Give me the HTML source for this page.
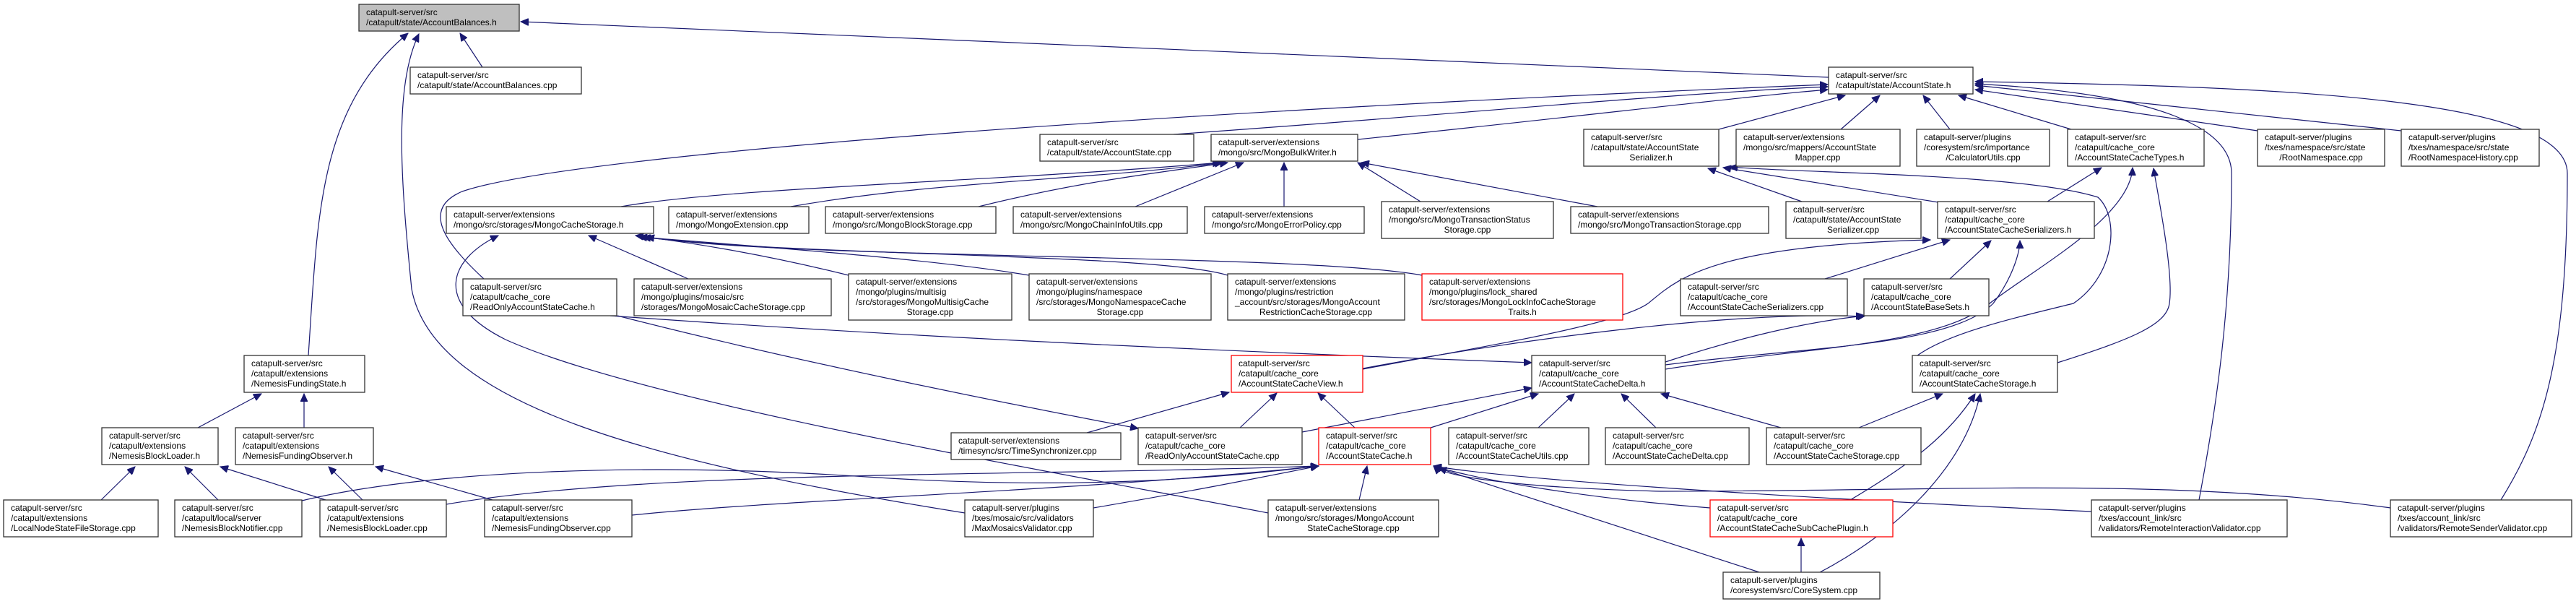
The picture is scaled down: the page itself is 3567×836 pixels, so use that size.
<!DOCTYPE html>
<html><head><meta charset="utf-8"><style>
html,body{margin:0;padding:0;background:#fff;}
svg{display:block;}
text{font-family:"Liberation Sans",Arial,sans-serif;font-size:12px;fill:#000;}
.b{fill:#fff;stroke:#333;stroke-width:1.3;}
.r{fill:#fff;stroke:#ff0000;stroke-width:1.3;}
.g{fill:#bfbfbf;stroke:#333;stroke-width:1.3;}
.e{fill:none;stroke:#191970;stroke-width:1.2;marker-end:url(#a);}
</style></head><body>
<svg width="3567" height="836" viewBox="0 0 3567 836" xmlns="http://www.w3.org/2000/svg">
<defs><marker id="a" markerUnits="userSpaceOnUse" markerWidth="12" markerHeight="10" refX="11" refY="5" orient="auto"><path d="M0,0 L11,5 L0,10 z" fill="#191970" stroke="#191970"/></marker></defs>

<!-- edges -->
<path class="e" d="M668,93 L637,46"/>
<path class="e" d="M2532,107 L721,30"/>
<path class="e" d="M427,492 C440,300 440,150 565,46"/>
<path class="e" d="M1336,710 C900,640 600,560 570,400 C555,250 545,120 580,47"/>
<path class="e" d="M670,386 C620,340 580,290 640,265 C800,210 1700,150 2531,117"/>
<path class="e" d="M1625,186 C2000,160 2300,130 2531,120"/>
<path class="e" d="M1880,193 C2200,160 2400,135 2531,124"/>
<path class="e" d="M2380,179 L2555,132"/>
<path class="e" d="M2549,179 L2603,132"/>
<path class="e" d="M2700,179 L2663,132"/>
<path class="e" d="M2868,179 L2712,132"/>
<path class="e" d="M3126,181 L2735,124"/>
<path class="e" d="M3325,181 L2735,118"/>
<path class="e" d="M3045,692 C3070,560 3090,420 3090,240 C3090,180 3000,130 2735,116"/>
<path class="e" d="M3463,692 C3520,600 3555,500 3555,240 C3555,140 3200,120 2735,113"/>
<path class="e" d="M860,286 C1000,260 1400,250 1690,225"/>
<path class="e" d="M1095,286 C1300,250 1500,250 1693,225"/>
<path class="e" d="M1355,286 C1500,250 1600,240 1700,225"/>
<path class="e" d="M1572,286 L1722,225"/>
<path class="e" d="M1778,286 L1778,225"/>
<path class="e" d="M1967,279 L1880,225"/>
<path class="e" d="M2212,286 L1885,225"/>
<path class="e" d="M953,386 L815,326"/>
<path class="e" d="M1175,381 C1050,350 950,335 880,326"/>
<path class="e" d="M1425,381 C1300,360 1100,345 885,328"/>
<path class="e" d="M1700,381 C1600,350 1100,355 890,328"/>
<path class="e" d="M1969,381 C1800,350 1100,360 895,328"/>
<path class="e" d="M1756,710 C1500,660 900,560 700,470 C600,420 620,360 690,326"/>
<path class="e" d="M845,437 C1300,470 1800,490 2121,502"/>
<path class="e" d="M855,437 C1100,500 1400,560 1576,593"/>
<path class="e" d="M1505,599 L1702,543"/>
<path class="e" d="M1717,592 L1768,544"/>
<path class="e" d="M1876,592 L1825,544"/>
<path class="e" d="M1887,510 C2100,470 2400,430 2581,438"/>
<path class="e" d="M1887,511 C2050,480 2240,450 2282,420 C2320,390 2360,340 2673,332"/>
<path class="e" d="M2306,501 C2400,470 2500,445 2583,437"/>
<path class="e" d="M2306,511 C2500,480 2680,480 2755,420 C2820,370 2950,300 2953,232"/>
<path class="e" d="M2306,505 C2500,480 2700,480 2760,420 C2790,380 2797,345 2797,333"/>
<path class="e" d="M1981,592 L2130,545"/>
<path class="e" d="M2130,592 L2180,545"/>
<path class="e" d="M2293,592 L2245,545"/>
<path class="e" d="M2466,592 L2300,545"/>
<path class="e" d="M1803,598 L2121,537"/>
<path class="e" d="M1882,692 L1893,645"/>
<path class="e" d="M2436,792 L1992,648"/>
<path class="e" d="M2368,703 C2200,690 2050,665 1985,645"/>
<path class="e" d="M2896,708 C2500,690 2100,665 1985,645"/>
<path class="e" d="M3310,703 C3000,660 2700,680 2300,680 C2100,675 2000,660 1985,645"/>
<path class="e" d="M1514,703 C1650,680 1750,660 1826,645"/>
<path class="e" d="M618,698 C900,650 1400,660 1826,645"/>
<path class="e" d="M418,693 C600,650 900,640 1200,660 C1500,680 1700,660 1826,645"/>
<path class="e" d="M875,713 C1100,690 1500,680 1826,645"/>
<path class="e" d="M2655,492 C2700,460 2790,440 2871,420 C2930,380 2935,300 2905,273 C2800,240 2500,240 2395,231"/>
<path class="e" d="M2849,502 C2950,470 3000,450 3004,420 C3010,380 2990,280 2982,233"/>
<path class="e" d="M2574,592 L2690,545"/>
<path class="e" d="M2562,692 C2650,640 2700,600 2735,545"/>
<path class="e" d="M2520,792 C2620,740 2720,650 2742,545"/>
<path class="e" d="M2494,792 L2494,745"/>
<path class="e" d="M2835,279 L2910,232"/>
<path class="e" d="M2684,280 L2386,232"/>
<path class="e" d="M2495,279 L2365,233"/>
<path class="e" d="M2527,386 L2700,332"/>
<path class="e" d="M2700,386 L2757,333"/>
<path class="e" d="M274,592 L362,545"/>
<path class="e" d="M421,592 L421,545"/>
<path class="e" d="M140,692 L187,646"/>
<path class="e" d="M302,692 L256,646"/>
<path class="e" d="M451,692 L305,646"/>
<path class="e" d="M502,692 L455,646"/>
<path class="e" d="M682,692 L520,646"/>

<!-- nodes -->
<rect class="g" x="497" y="6" width="222" height="37"/><text x="507" y="21">catapult-server/src</text><text x="507" y="35">/catapult/state/AccountBalances.h</text>
<rect class="b" x="568" y="93" width="237" height="37"/><text x="578" y="108">catapult-server/src</text><text x="578" y="122">/catapult/state/AccountBalances.cpp</text>
<rect class="b" x="2532" y="93" width="200" height="37"/><text x="2542" y="108">catapult-server/src</text><text x="2542" y="122">/catapult/state/AccountState.h</text>
<rect class="b" x="338" y="492" width="167" height="51"/><text x="348" y="507">catapult-server/src</text><text x="348" y="521">/catapult/extensions</text><text x="348" y="535">/NemesisFundingState.h</text>
<rect class="b" x="141" y="592" width="161" height="51"/><text x="151" y="607">catapult-server/src</text><text x="151" y="621">/catapult/extensions</text><text x="151" y="635">/NemesisBlockLoader.h</text>
<rect class="b" x="326" y="592" width="191" height="51"/><text x="336" y="607">catapult-server/src</text><text x="336" y="621">/catapult/extensions</text><text x="336" y="635">/NemesisFundingObserver.h</text>
<rect class="b" x="5" y="692" width="214" height="51"/><text x="15" y="707">catapult-server/src</text><text x="15" y="721">/catapult/extensions</text><text x="15" y="735">/LocalNodeStateFileStorage.cpp</text>
<rect class="b" x="242" y="692" width="176" height="51"/><text x="252" y="707">catapult-server/src</text><text x="252" y="721">/catapult/local/server</text><text x="252" y="735">/NemesisBlockNotifier.cpp</text>
<rect class="b" x="443" y="692" width="175" height="51"/><text x="453" y="707">catapult-server/src</text><text x="453" y="721">/catapult/extensions</text><text x="453" y="735">/NemesisBlockLoader.cpp</text>
<rect class="b" x="671" y="692" width="204" height="51"/><text x="681" y="707">catapult-server/src</text><text x="681" y="721">/catapult/extensions</text><text x="681" y="735">/NemesisFundingObserver.cpp</text>
<rect class="b" x="618" y="286" width="287" height="37"/><text x="628" y="301">catapult-server/extensions</text><text x="628" y="315">/mongo/src/storages/MongoCacheStorage.h</text>
<rect class="b" x="641" y="386" width="213" height="51"/><text x="651" y="401">catapult-server/src</text><text x="651" y="415">/catapult/cache_core</text><text x="651" y="429">/ReadOnlyAccountStateCache.h</text>
<rect class="b" x="878" y="386" width="273" height="51"/><text x="888" y="401">catapult-server/extensions</text><text x="888" y="415">/mongo/plugins/mosaic/src</text><text x="888" y="429">/storages/MongoMosaicCacheStorage.cpp</text>
<rect class="b" x="1175" y="379" width="226" height="64"/><text x="1185" y="394">catapult-server/extensions</text><text x="1185" y="408">/mongo/plugins/multisig</text><text x="1185" y="422">/src/storages/MongoMultisigCache</text><text x="1288" y="436" text-anchor="middle">Storage.cpp</text>
<rect class="b" x="1425" y="379" width="252" height="64"/><text x="1435" y="394">catapult-server/extensions</text><text x="1435" y="408">/mongo/plugins/namespace</text><text x="1435" y="422">/src/storages/MongoNamespaceCache</text><text x="1551" y="436" text-anchor="middle">Storage.cpp</text>
<rect class="b" x="1700" y="379" width="245" height="64"/><text x="1710" y="394">catapult-server/extensions</text><text x="1710" y="408">/mongo/plugins/restriction</text><text x="1710" y="422">_account/src/storages/MongoAccount</text><text x="1822" y="436" text-anchor="middle">RestrictionCacheStorage.cpp</text>
<rect class="r" x="1969" y="379" width="278" height="64"/><text x="1979" y="394">catapult-server/extensions</text><text x="1979" y="408">/mongo/plugins/lock_shared</text><text x="1979" y="422">/src/storages/MongoLockInfoCacheStorage</text><text x="2108" y="436" text-anchor="middle">Traits.h</text>
<rect class="b" x="1440" y="186" width="213" height="37"/><text x="1450" y="201">catapult-server/src</text><text x="1450" y="215">/catapult/state/AccountState.cpp</text>
<rect class="b" x="1677" y="186" width="203" height="37"/><text x="1687" y="201">catapult-server/extensions</text><text x="1687" y="215">/mongo/src/MongoBulkWriter.h</text>
<rect class="b" x="926" y="286" width="194" height="37"/><text x="936" y="301">catapult-server/extensions</text><text x="936" y="315">/mongo/MongoExtension.cpp</text>
<rect class="b" x="1143" y="286" width="236" height="37"/><text x="1153" y="301">catapult-server/extensions</text><text x="1153" y="315">/mongo/src/MongoBlockStorage.cpp</text>
<rect class="b" x="1403" y="286" width="241" height="37"/><text x="1413" y="301">catapult-server/extensions</text><text x="1413" y="315">/mongo/src/MongoChainInfoUtils.cpp</text>
<rect class="b" x="1668" y="286" width="221" height="37"/><text x="1678" y="301">catapult-server/extensions</text><text x="1678" y="315">/mongo/src/MongoErrorPolicy.cpp</text>
<rect class="b" x="1913" y="279" width="238" height="51"/><text x="1923" y="294">catapult-server/extensions</text><text x="1923" y="308">/mongo/src/MongoTransactionStatus</text><text x="2032" y="322" text-anchor="middle">Storage.cpp</text>
<rect class="b" x="2175" y="286" width="274" height="37"/><text x="2185" y="301">catapult-server/extensions</text><text x="2185" y="315">/mongo/src/MongoTransactionStorage.cpp</text>
<rect class="b" x="2193" y="179" width="187" height="51"/><text x="2203" y="194">catapult-server/src</text><text x="2203" y="208">/catapult/state/AccountState</text><text x="2286" y="222" text-anchor="middle">Serializer.h</text>
<rect class="b" x="2404" y="179" width="227" height="51"/><text x="2414" y="194">catapult-server/extensions</text><text x="2414" y="208">/mongo/src/mappers/AccountState</text><text x="2517" y="222" text-anchor="middle">Mapper.cpp</text>
<rect class="b" x="2654" y="179" width="184" height="51"/><text x="2664" y="194">catapult-server/plugins</text><text x="2664" y="208">/coresystem/src/importance</text><text x="2746" y="222" text-anchor="middle">/CalculatorUtils.cpp</text>
<rect class="b" x="2863" y="179" width="189" height="51"/><text x="2873" y="194">catapult-server/src</text><text x="2873" y="208">/catapult/cache_core</text><text x="2873" y="222">/AccountStateCacheTypes.h</text>
<rect class="b" x="3126" y="179" width="176" height="51"/><text x="3136" y="194">catapult-server/plugins</text><text x="3136" y="208">/txes/namespace/src/state</text><text x="3214" y="222" text-anchor="middle">/RootNamespace.cpp</text>
<rect class="b" x="3325" y="179" width="191" height="51"/><text x="3335" y="194">catapult-server/plugins</text><text x="3335" y="208">/txes/namespace/src/state</text><text x="3335" y="222">/RootNamespaceHistory.cpp</text>
<rect class="b" x="2473" y="279" width="187" height="51"/><text x="2483" y="294">catapult-server/src</text><text x="2483" y="308">/catapult/state/AccountState</text><text x="2566" y="322" text-anchor="middle">Serializer.cpp</text>
<rect class="b" x="2683" y="279" width="217" height="51"/><text x="2693" y="294">catapult-server/src</text><text x="2693" y="308">/catapult/cache_core</text><text x="2693" y="322">/AccountStateCacheSerializers.h</text>
<rect class="b" x="2327" y="386" width="231" height="51"/><text x="2337" y="401">catapult-server/src</text><text x="2337" y="415">/catapult/cache_core</text><text x="2337" y="429">/AccountStateCacheSerializers.cpp</text>
<rect class="b" x="2581" y="386" width="173" height="51"/><text x="2591" y="401">catapult-server/src</text><text x="2591" y="415">/catapult/cache_core</text><text x="2591" y="429">/AccountStateBaseSets.h</text>
<rect class="r" x="1705" y="492" width="182" height="51"/><text x="1715" y="507">catapult-server/src</text><text x="1715" y="521">/catapult/cache_core</text><text x="1715" y="535">/AccountStateCacheView.h</text>
<rect class="b" x="2121" y="492" width="185" height="51"/><text x="2131" y="507">catapult-server/src</text><text x="2131" y="521">/catapult/cache_core</text><text x="2131" y="535">/AccountStateCacheDelta.h</text>
<rect class="b" x="2648" y="492" width="201" height="51"/><text x="2658" y="507">catapult-server/src</text><text x="2658" y="521">/catapult/cache_core</text><text x="2658" y="535">/AccountStateCacheStorage.h</text>
<rect class="b" x="1317" y="599" width="235" height="37"/><text x="1327" y="614">catapult-server/extensions</text><text x="1327" y="628">/timesync/src/TimeSynchronizer.cpp</text>
<rect class="b" x="1576" y="592" width="227" height="51"/><text x="1586" y="607">catapult-server/src</text><text x="1586" y="621">/catapult/cache_core</text><text x="1586" y="635">/ReadOnlyAccountStateCache.cpp</text>
<rect class="r" x="1826" y="592" width="155" height="51"/><text x="1836" y="607">catapult-server/src</text><text x="1836" y="621">/catapult/cache_core</text><text x="1836" y="635">/AccountStateCache.h</text>
<rect class="b" x="2006" y="592" width="194" height="51"/><text x="2016" y="607">catapult-server/src</text><text x="2016" y="621">/catapult/cache_core</text><text x="2016" y="635">/AccountStateCacheUtils.cpp</text>
<rect class="b" x="2223" y="592" width="199" height="51"/><text x="2233" y="607">catapult-server/src</text><text x="2233" y="621">/catapult/cache_core</text><text x="2233" y="635">/AccountStateCacheDelta.cpp</text>
<rect class="b" x="2446" y="592" width="214" height="51"/><text x="2456" y="607">catapult-server/src</text><text x="2456" y="621">/catapult/cache_core</text><text x="2456" y="635">/AccountStateCacheStorage.cpp</text>
<rect class="b" x="1336" y="692" width="178" height="51"/><text x="1346" y="707">catapult-server/plugins</text><text x="1346" y="721">/txes/mosaic/src/validators</text><text x="1346" y="735">/MaxMosaicsValidator.cpp</text>
<rect class="b" x="1756" y="692" width="236" height="51"/><text x="1766" y="707">catapult-server/extensions</text><text x="1766" y="721">/mongo/src/storages/MongoAccount</text><text x="1874" y="735" text-anchor="middle">StateCacheStorage.cpp</text>
<rect class="r" x="2368" y="692" width="253" height="51"/><text x="2378" y="707">catapult-server/src</text><text x="2378" y="721">/catapult/cache_core</text><text x="2378" y="735">/AccountStateCacheSubCachePlugin.h</text>
<rect class="b" x="2386" y="792" width="217" height="37"/><text x="2396" y="807">catapult-server/plugins</text><text x="2396" y="821">/coresystem/src/CoreSystem.cpp</text>
<rect class="b" x="2896" y="692" width="271" height="51"/><text x="2906" y="707">catapult-server/plugins</text><text x="2906" y="721">/txes/account_link/src</text><text x="2906" y="735">/validators/RemoteInteractionValidator.cpp</text>
<rect class="b" x="3310" y="692" width="251" height="51"/><text x="3320" y="707">catapult-server/plugins</text><text x="3320" y="721">/txes/account_link/src</text><text x="3320" y="735">/validators/RemoteSenderValidator.cpp</text>
</svg>
</body></html>
